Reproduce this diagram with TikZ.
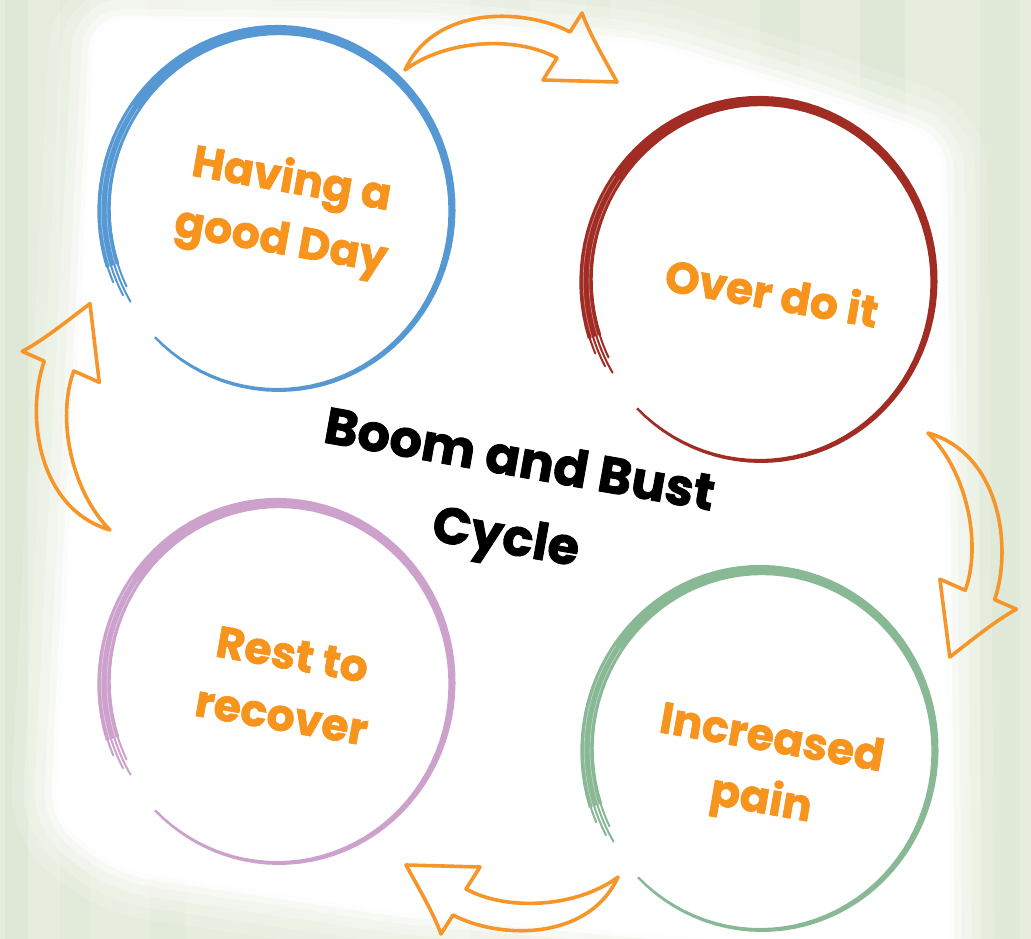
\documentclass[tikz,border=0pt]{standalone}
\usepackage{fontspec}
\newfontfamily\cyclefont{Poppins}[BoldFeatures={FakeBold=1.6}]
\definecolor{ringblue}{RGB}{86,152,212}
\definecolor{ringred}{RGB}{160,44,36}
\definecolor{ringgreen}{RGB}{136,184,148}
\definecolor{ringpurple}{RGB}{204,162,204}
\definecolor{txtorange}{RGB}{247,148,29}
\definecolor{arrorange}{RGB}{246,150,42}
\definecolor{bamboo}{RGB}{230,237,222}
\definecolor{stalk}{RGB}{205,218,192}

\begin{document}
\begin{tikzpicture}[x=1pt,y=1pt,
  declare function={hw(\t)=1.2+5.8*(\t-225)/333;},
  steptext/.style={text=txtorange,align=center,rotate=-10,
    font=\cyclefont\bfseries\fontsize{44}{62}\selectfont},
  titletext/.style={text=black,align=center,rotate=-10,
    font=\cyclefont\bfseries\fontsize{51}{78}\selectfont},
  pics/ring/.style={code={
    % brush body, thin at the start and heavy at the end
    \fill[#1] plot[domain=225:558,samples=90]
        ({(174+hw(\x))*cos(\x)},{(180+hw(\x))*sin(\x)})
      -- plot[domain=558:225,samples=90]
        ({(174-hw(\x))*cos(\x)},{(180-hw(\x))*sin(\x)}) -- cycle;
    % bristle streaks at the end
    \foreach \d/\e in {-5.5/566,-2/571,1.5/568,5/563}
      \draw[#1,line width=2pt,line cap=round]
        (540:174+\d pt and 180+\d pt) arc[start angle=540,end angle=\e,x radius=174+\d,y radius=180+\d];
    \foreach \d in {-3,2.8}
      \draw[white,opacity=.45,line width=.6pt]
        (505:174+\d pt and 180+\d pt) arc[start angle=505,end angle=558,x radius=174+\d,y radius=180+\d];
  }},
  pics/bendarrow/.style={code={
    \draw[arrorange,line width=3.6pt,line join=round]
      (0,0) .. controls (40,30) and (110,35) .. (152,12) -- (138,-10) -- (212,-12)
      .. controls (200,10) and (185,35) .. (177,57) -- (165,38)
      .. controls (120,62) and (30,65) .. cycle;
  }}]
  \useasboundingbox (0,0) rectangle (1031,-939);
  \clip (0,0) rectangle (1031,-939);

  % blurred bamboo backdrop
  \fill[bamboo] (0,0) rectangle (1031,-939);
  \foreach \xa/\xb/\o in {5/28/.25,60/90/.15,150/185/.15,470/530/.2,585/610/.15,
                          760/800/.2,860/905/.25,980/1020/.2}
    \fill[stalk,opacity=\o,rounded corners=12] (\xa,10) rectangle (\xb,-950);
  \fill[white,rounded corners=30]
    (95,-20) -- (450,-25) -- (650,-45) -- (800,-90) -- (942,-140) -- (950,-960)
    -- (400,-912) -- (120,-870) -- (55,-820) -- cycle;
  \foreach \w/\o in {90/.15,66/.2,44/.3,24/.45,10/.7}
    \draw[white,opacity=\o,line width=\w pt,rounded corners=30,line join=round]
      (95,-20) -- (450,-25) -- (650,-45) -- (800,-90) -- (942,-140) -- (950,-960)
      -- (400,-912) -- (120,-870) -- (55,-820) -- cycle;

  % ring centres
  \coordinate (cgood) at (278,-210);
  \coordinate (cover) at (760,-281);
  \coordinate (cpain) at (761,-750);
  \coordinate (crest) at (278,-683);

  \pic at (cgood) {ring=ringblue};
  \pic at (cover) {ring=ringred};
  \pic at (cpain) {ring=ringgreen};
  \pic at (crest) {ring=ringpurple};

  % curved block arrows between the rings
  \pic at (405,-70) {bendarrow};
  \pic[rotate=-81.2,scale=1.06] at (928,-433) {bendarrow};
  \pic[rotate=180] at (618,-877) {bendarrow};
  \pic[rotate=98.3,scale=1.07] at (110,-530) {bendarrow};

  \node[steptext] (good) at (286,-212) {Having a\\good Day};
  \node[steptext] (over) at (772,-292) {Over do it};
  \node[steptext] (pain) at (766,-772) {Increased\\pain};
  \node[steptext] (rest) at (287,-685) {Rest to\\recover};
  \node[titletext] (boom) at (512,-503) {Boom and Bust\\Cycle};
\end{tikzpicture}
\end{document}
